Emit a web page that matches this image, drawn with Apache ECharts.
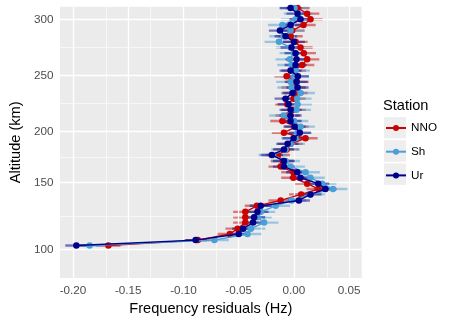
<!DOCTYPE html>
<html><head><meta charset="utf-8">
<script src="https://cdn.jsdelivr.net/npm/echarts@6/dist/echarts.min.js"></script>
<style>html,body{margin:0;padding:0;background:#fff}#c{width:449px;height:323px}</style>
</head><body><div id="c"></div>
<script>
// ---- data ----
const altitudes = [103,107,111.5,115.5,120,124,128,132.5,136.5,141,145,149,154.5,160,165.5,171,177,182.5,188,193.5,199,204.5,209.5,214.5,219.5,224.5,229.5,234.5,239.5,244.5,249.5,254.5,259.5,264.5,270,275,280,285,290,295,300,305,310];
const nno = [-0.168,-0.087,-0.058,-0.051,-0.044,-0.044,-0.044,-0.0335,-0.012,0.0066,0.0224,0.012,-0.0005,-0.0005,-0.012,-0.010,-0.0146,-0.0066,-0.003,0.0105,-0.009,0.0024,-0.0104,-0.0057,-0.0003,-0.006,-0.0003,0.0015,-0.0003,0.0024,-0.0066,0.0,0.0075,0.012,0.009,0.006,0.0015,-0.003,-0.0015,0.0087,0.015,0.012,0.0033];
const sh = [-0.185,-0.072,-0.042,-0.039,-0.027,-0.033,-0.030,-0.0165,-0.002,0.015,0.0354,0.0255,0.015,0.0105,-0.003,-0.0075,-0.019,-0.0075,-0.003,0.0015,0.0033,0.006,0.0,-0.0093,0.0024,0.0033,0.003,0.006,-0.002,-0.003,0.0006,0.0015,-0.002,-0.0036,0.0,-0.003,-0.0135,-0.0093,-0.003,-0.0104,0.0015,0.004,0.0006];
const ur = [-0.197,-0.089,-0.050,-0.046,-0.037,-0.036,-0.033,-0.030,0.0045,0.015,0.0285,0.022,0.006,0.003,-0.009,-0.009,-0.020,-0.009,-0.0057,-0.0003,0.0054,0.0006,-0.003,-0.003,-0.003,-0.0048,-0.0075,-0.0012,0.0033,0.0024,0.0036,-0.003,0.0015,0.0024,0.0015,-0.0021,0.0,-0.0075,-0.0126,-0.003,0.006,0.0033,-0.003];
const errNNO = 0.011, errSh = 0.013, errUr = 0.010;
const stations = ['NNO','Sh','Ur'];
const xTicks = [-0.20,-0.15,-0.10,-0.05,0.00,0.05];
const xMinor = [-0.175,-0.125,-0.075,-0.025,0.025];
const yTicks = [100,150,200,250,300];
const yMinor = [125,175,225,275];

// ---- altitude axis scale (piecewise linear, as in the reference axis) ----
const scaleAlt = [100,150,200,250,300];
const scaleU = [0,67.2,117.8,173.8,230.2];
function f(a){
  let i = 0;
  if (a <= scaleAlt[0]) i = 0;
  else if (a >= scaleAlt[scaleAlt.length-1]) i = scaleAlt.length-2;
  else { while (a > scaleAlt[i+1]) i++; }
  const t = (a - scaleAlt[i]) / (scaleAlt[i+1]-scaleAlt[i]);
  return scaleU[i] + t*(scaleU[i+1]-scaleU[i]);
}
function finv(u){
  let i = 0;
  if (u <= scaleU[0]) i = 0;
  else if (u >= scaleU[scaleU.length-1]) i = scaleU.length-2;
  else { while (u > scaleU[i+1]) i++; }
  const t = (u - scaleU[i]) / (scaleU[i+1]-scaleU[i]);
  return scaleAlt[i] + t*(scaleAlt[i+1]-scaleAlt[i]);
}

const colors = {NNO:'#CC0000', Sh:'#4A9FD8', Ur:'#00008B'};
const vals = {NNO:nno, Sh:sh, Ur:ur};
const errs = {NNO:errNNO, Sh:errSh, Ur:errUr};
const FONT = 'Liberation Sans, Arial, Helvetica, sans-serif';

const series = [];
// grid lines
series.push({type:'line', data:[], silent:true, z:1, animation:false,
  markLine:{silent:true, symbol:['none','none'], label:{show:false}, animation:false,
    lineStyle:{color:'#ffffff', width:0.6, type:'solid', opacity:1},
    emphasis:{disabled:true},
    data:[...xMinor.map(v=>({xAxis:v})), ...yMinor.map(v=>({yAxis:f(v)}))]}});
series.push({type:'line', data:[], silent:true, z:1, animation:false,
  markLine:{silent:true, symbol:['none','none'], label:{show:false}, animation:false,
    lineStyle:{color:'#ffffff', width:1.3, type:'solid', opacity:1},
    emphasis:{disabled:true},
    data:[...xTicks.map(v=>({xAxis:v})), ...yTicks.map(v=>({yAxis:f(v)}))]}});
// error bars
stations.forEach((s,k)=>{
  series.push({type:'custom', silent:true, z:3+k, animation:false, clip:true,
    encode:{x:0, y:1},
    data: vals[s].map((v,i)=>[v, f(altitudes[i]), errs[s]]),
    renderItem:(params, api)=>{
      const x = api.value(0), y = api.value(1), e = api.value(2);
      const p1 = api.coord([x-e, y]), p2 = api.coord([x+e, y]);
      return {type:'line', shape:{x1:p1[0], y1:p1[1], x2:p2[0], y2:p2[1]},
        style:{stroke:colors[s], lineWidth:2.4, opacity:0.5}};
    }});
});
// lines + points
stations.forEach((s,k)=>{
  series.push({type:'line', name:s, z:10+k, animation:false, silent:true,
    data: vals[s].map((v,i)=>[v, f(altitudes[i])]),
    symbol:'circle', symbolSize:6.5, showSymbol:true,
    lineStyle:{color:colors[s], width:1.4},
    itemStyle:{color:colors[s]}});
});

const chart = echarts.init(document.getElementById('c'), null, {renderer:'canvas'});
chart.setOption({
  animation:false,
  backgroundColor:'#ffffff',
  textStyle:{fontFamily:FONT},
  grid:{left:57.3, right:87.3, top:6.7, bottom:45, show:true, backgroundColor:'#EBEBEB', borderWidth:0},
  xAxis:{type:'value', min:-0.2118, max:0.0614,
    name:'Frequency residuals (Hz)', nameLocation:'middle', nameGap:22,
    nameTextStyle:{fontSize:14.6, color:'#000', fontFamily:FONT, verticalAlign:'top'},
    axisLine:{show:false}, splitLine:{show:false},
    axisTick:{show:true, length:3.7, lineStyle:{color:'#333333', width:1}, customValues:xTicks},
    axisLabel:{customValues:xTicks, margin:6.6, fontSize:11.7, color:'#4D4D4D', fontFamily:FONT,
      formatter:(v)=>v.toFixed(2)}},
  yAxis:{type:'value', min:-28.5, max:242.8,
    name:'Altitude (km)', nameLocation:'middle', nameGap:36,
    nameTextStyle:{fontSize:14.6, color:'#000', fontFamily:FONT},
    axisLine:{show:false}, splitLine:{show:false},
    axisTick:{show:true, length:3.7, lineStyle:{color:'#333333', width:1}, customValues:yTicks.map(f)},
    axisLabel:{customValues:yTicks.map(f), margin:6.6, fontSize:11.7, color:'#4D4D4D', fontFamily:FONT,
      formatter:(v)=>String(Math.round(finv(v)))}},
  legend:{data:stations, orient:'vertical', left:385, top:122, padding:0, itemWidth:20, itemHeight:7.5, itemGap:11.7,
    textStyle:{fontSize:11.7, color:'#000', fontFamily:FONT}, selectedMode:false, z:5},
  graphic:[
    {type:'text', left:383, top:98, style:{text:'Station', fontSize:14.6, fill:'#000', fontFamily:FONT}, z:3},
    {type:'rect', shape:{x:384, y:117, width:22, height:21.5}, style:{fill:'#EEEEEE'}, z:1},
    {type:'rect', shape:{x:384, y:140.2, width:22, height:21.5}, style:{fill:'#EEEEEE'}, z:1},
    {type:'rect', shape:{x:384, y:163.4, width:22, height:21.5}, style:{fill:'#EEEEEE'}, z:1}
  ],
  series:series
});
</script></body></html>
